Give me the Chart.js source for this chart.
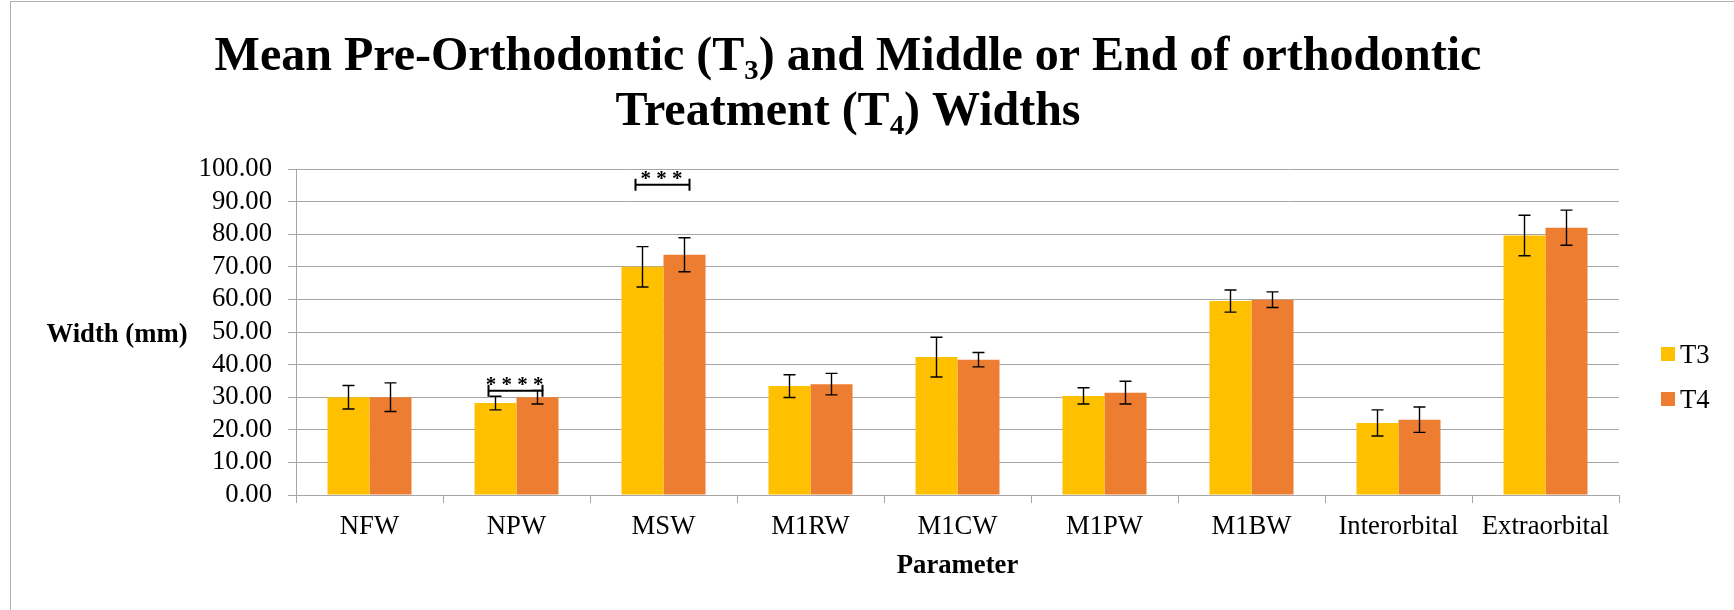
<!DOCTYPE html>
<html lang="en">
<head>
  <meta charset="UTF-8" />
  <title>Mean Pre-Orthodontic (T3) and Middle or End of orthodontic Treatment (T4) Widths</title>
  <script src="https://cdn.jsdelivr.net/npm/chart.js"></script>
  <style>
    html, body { margin: 0; padding: 0; background: #fff; overflow: hidden; }
    #frame { position: absolute; left: 10px; top: 1px; width: 1800px; height: 700px;
             border-left: 1px solid #b0b0b0; border-top: 1px solid #b0b0b0; }
    #chart { position: absolute; left: 0; top: 0; }
  </style>
</head>
<body>
  <div id="frame"></div>
  <canvas id="chart" width="1734" height="610"></canvas>

  <script>
    // values (mm)
    const categories = ['NFW', 'NPW', 'MSW', 'M1RW', 'M1CW', 'M1PW', 'M1BW', 'Interorbital', 'Extraorbital'];
    const seriesNames = ['T3', 'T4'];
    const t3Means = [30.0, 28.2, 70.0, 33.4, 42.3, 30.4, 59.5, 22.1, 79.6];
    const t3Errors = [3.6, 2.1, 6.2, 3.5, 6.1, 2.5, 3.4, 4.0, 6.2];
    const t4Means = [30.0, 30.0, 73.7, 34.0, 41.5, 31.4, 59.9, 23.1, 82.0];
    const t4Errors = [4.4, 2.1, 5.2, 3.3, 2.2, 3.5, 2.4, 3.9, 5.4];
    const yTicks = [0, 10, 20, 30, 40, 50, 60, 70, 80, 90, 100];

    // significance brackets
    const sigCategories = ['NPW', 'MSW'];
    const sigLevels = [32.0, 95.2];
    const sigLabels = ['* * * *', '* * *'];

    const FONT = "'Liberation Serif', 'Times New Roman', serif";
    const GRID = '#a6a6a6';

    const errorBars = {
      id: 'errorBars',
      afterDatasetsDraw(chart) {
        const ctx = chart.ctx;
        const y = chart.scales.y;
        ctx.save();
        ctx.strokeStyle = '#000';
        ctx.lineWidth = 1.4;
        chart.data.datasets.forEach((ds, i) => {
          chart.getDatasetMeta(i).data.forEach((bar, j) => {
            const hi = y.getPixelForValue(ds.data[j] + ds.errors[j]);
            const lo = y.getPixelForValue(ds.data[j] - ds.errors[j]);
            ctx.beginPath();
            ctx.moveTo(bar.x, hi); ctx.lineTo(bar.x, lo);
            ctx.moveTo(bar.x - 6, hi); ctx.lineTo(bar.x + 6, hi);
            ctx.moveTo(bar.x - 6, lo); ctx.lineTo(bar.x + 6, lo);
            ctx.stroke();
          });
        });

        // brackets with asterisks
        ctx.lineWidth = 2;
        ctx.fillStyle = '#000';
        ctx.font = 'bold 21px ' + FONT;
        ctx.textAlign = 'center';
        ctx.textBaseline = 'alphabetic';
        sigCategories.forEach((cat, k) => {
          const idx = categories.indexOf(cat);
          const a = chart.getDatasetMeta(0).data[idx];
          const b = chart.getDatasetMeta(1).data[idx];
          const left = a.x - 7, right = b.x + 5;
          const yy = y.getPixelForValue(sigLevels[k]);
          ctx.beginPath();
          ctx.moveTo(left, yy); ctx.lineTo(right, yy);
          ctx.moveTo(left, yy - 6); ctx.lineTo(left, yy + 6);
          ctx.moveTo(right, yy - 6); ctx.lineTo(right, yy + 6);
          ctx.stroke();
          ctx.fillText(sigLabels[k], (left + right) / 2 - 1, yy + 0.5);
        });
        ctx.restore();
      }
    };

    const extraText = {
      id: 'extraText',
      afterDraw(chart) {
        const ctx = chart.ctx;
        const area = chart.chartArea;
        ctx.save();
        ctx.fillStyle = '#000';
        // horizontal y axis title
        ctx.font = 'bold 26.7px ' + FONT;
        ctx.textAlign = 'center';
        ctx.textBaseline = 'alphabetic';
        ctx.fillText('Width (mm)', 117, 341.7);
        // legend
        ctx.font = '26.7px ' + FONT;
        ctx.textAlign = 'left';
        chart.data.datasets.forEach((ds, i) => {
          const top = 347 + i * 45;
          ctx.fillStyle = ds.backgroundColor;
          ctx.fillRect(area.right + 42, top, 14, 14);
          ctx.fillStyle = '#000';
          ctx.fillText(ds.label, area.right + 61, top + 15.5);
        });
        ctx.restore();
      }
    };

    new Chart(document.getElementById('chart'), {
      type: 'bar',
      data: {
        labels: categories,
        datasets: [
          { label: seriesNames[0], data: t3Means, errors: t3Errors, backgroundColor: '#FFC000' },
          { label: seriesNames[1], data: t4Means, errors: t4Errors, backgroundColor: '#ED7D31' }
        ]
      },
      options: {
        responsive: false,
        animation: false,
        devicePixelRatio: 1,
        layout: { padding: { left: 0, right: 38, top: 0, bottom: 0 } },
        datasets: { bar: { categoryPercentage: 0.5714, barPercentage: 1.0, borderWidth: 0 } },
        plugins: {
          legend: { display: false },
          tooltip: { enabled: false },
          title: {
            display: true,
            text: ['Mean Pre-Orthodontic (T\u2083) and Middle or End of orthodontic', 'Treatment (T\u2084) Widths'],
            color: '#000',
            font: { family: FONT, size: 48, weight: 'bold', lineHeight: 1.15 },
            padding: { top: 30, bottom: 28.6 }
          }
        },
        scales: {
          x: {
            grid: { display: true, drawOnChartArea: false, drawTicks: true, tickLength: 8, color: GRID, offset: true },
            border: { display: true, color: GRID, width: 1 },
            ticks: { color: '#000', font: { family: FONT, size: 26.7 }, padding: 8, maxRotation: 0, autoSkip: false },
            title: {
              display: true, text: 'Parameter', color: '#000',
              font: { family: FONT, size: 26.7, weight: 'bold' },
              padding: { top: 0, bottom: 28 }
            },
            afterFit(s) { s.height = 115; }
          },
          y: {
            min: 0, max: 100,
            afterBuildTicks(s) { s.ticks = yTicks.map(v => ({ value: v })); },
            grid: { color: GRID, lineWidth: 1, drawTicks: true, tickLength: 8 },
            border: { display: true, color: GRID, width: 1 },
            ticks: {
              color: '#000', font: { family: FONT, size: 26.7 }, padding: 16, autoSkip: false,
              callback: v => Number(v).toFixed(2)
            },
            afterFit(s) { s.width = 296; }
          },
          spacer: {
            type: 'linear', position: 'right', min: 0, max: 1,
            grid: { display: false, drawTicks: false },
            border: { display: false },
            ticks: { display: false },
            afterFit(s) { s.width = 77; }
          }
        }
      },
      plugins: [errorBars, extraText]
    });
  </script>
</body>
</html>
